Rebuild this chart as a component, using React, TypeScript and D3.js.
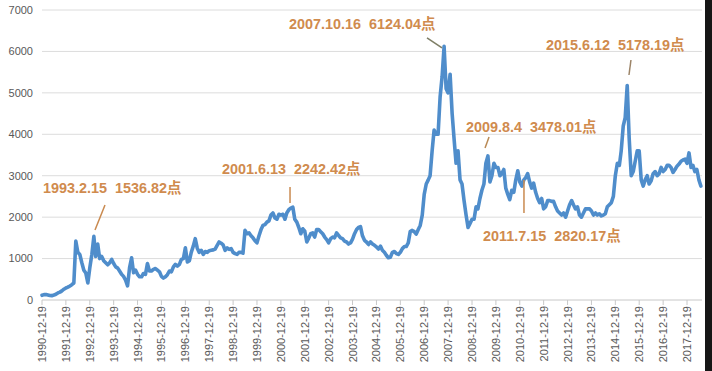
import React from 'react';
import * as d3 from 'd3';

const START = '1990-12-19';
const END = '2017-12-19';
const yearLabels = [
  '1990-12-19', '1991-12-19', '1992-12-19', '1993-12-19', '1994-12-19', '1995-12-19', '1996-12-19',
  '1997-12-19', '1998-12-19', '1999-12-19', '2000-12-19', '2001-12-19', '2002-12-19', '2003-12-19',
  '2004-12-19', '2005-12-19', '2006-12-19', '2007-12-19', '2008-12-19', '2009-12-19', '2010-12-19',
  '2011-12-19', '2012-12-19', '2013-12-19', '2014-12-19', '2015-12-19', '2016-12-19', '2017-12-19',
];
const yTicks = [0, 1000, 2000, 3000, 4000, 5000, 6000, 7000];

// monthly readings (around the 19th of each month), starting Dec 1990
const v1990 = [114];
const v1991 = [130, 132, 122, 110, 105, 118, 138, 170, 190, 220, 260, 290];
const v1992 = [310, 340, 370, 410, 1420, 1150, 1100, 900, 720, 650, 410, 780];
const v1993 = [1100, 1536, 1050, 1350, 1000, 1050, 950, 900, 850, 900, 980, 880];
const v1994 = [800, 770, 700, 620, 570, 480, 340, 780, 1020, 660, 720, 620];
const v1995 = [560, 560, 640, 620, 880, 700, 700, 740, 760, 720, 680, 570];
const v1996 = [530, 560, 610, 700, 680, 800, 860, 820, 860, 980, 1000, 1260];
const v1997 = [920, 950, 1150, 1300, 1480, 1250, 1150, 1200, 1100, 1170, 1150, 1190];
const v1998 = [1200, 1210, 1230, 1320, 1400, 1370, 1330, 1200, 1260, 1220, 1240, 1150];
const v1999 = [1120, 1100, 1150, 1150, 1130, 1680, 1600, 1620, 1550, 1500, 1430, 1380];
const v2000 = [1550, 1700, 1800, 1820, 1880, 1910, 2050, 2100, 1980, 1950, 2070, 2050];
const v2001 = [2070, 1950, 2100, 2180, 2220, 2242, 1950, 1880, 1750, 1600, 1720, 1660];
const v2002 = [1400, 1500, 1600, 1620, 1520, 1700, 1700, 1650, 1600, 1520, 1460, 1380];
const v2003 = [1480, 1520, 1500, 1620, 1560, 1500, 1480, 1420, 1400, 1350, 1380, 1470];
const v2004 = [1600, 1700, 1750, 1770, 1550, 1440, 1400, 1340, 1400, 1350, 1320, 1280];
const v2005 = [1230, 1300, 1200, 1150, 1080, 1020, 1030, 1150, 1170, 1120, 1100, 1150];
const v2006 = [1240, 1290, 1290, 1380, 1650, 1680, 1650, 1590, 1700, 1800, 2050, 2550];
const v2007 = [2800, 2900, 3000, 3600, 4100, 4000, 4000, 4900, 5400, 6124, 5100, 5000];
const v2008 = [5450, 4500, 3900, 3300, 3600, 2900, 2800, 2400, 2050, 1750, 1850, 1950];
const v2009 = [1950, 2250, 2200, 2450, 2650, 2800, 3300, 3478, 2850, 3000, 3300, 3200];
const v2010 = [3200, 3000, 3050, 3150, 2700, 2550, 2420, 2650, 2600, 2900, 3120, 2850];
const v2011 = [2750, 2900, 2950, 3050, 2850, 2700, 2820, 2600, 2450, 2350, 2450, 2200];
const v2012 = [2250, 2400, 2400, 2380, 2380, 2250, 2150, 2100, 2050, 2100, 2000, 2150];
const v2013 = [2300, 2400, 2300, 2200, 2250, 2050, 2000, 2100, 2200, 2200, 2200, 2150];
const v2014 = [2050, 2100, 2050, 2080, 2030, 2050, 2080, 2250, 2300, 2350, 2500, 3000];
const v2015 = [3300, 3250, 3600, 4200, 4400, 5178, 3900, 3000, 3100, 3350, 3600, 3600];
const v2016 = [2900, 2750, 2900, 3000, 2800, 2880, 3050, 3100, 3000, 3050, 3200, 3100];
const v2017 = [3150, 3250, 3250, 3200, 3080, 3150, 3230, 3280, 3350, 3380, 3400, 3300];
const v2018 = [3550, 3200, 3250, 3100, 3150, 2900, 2750];

const annotations = [
  { date: '1993-02-15', value: 1536.82, label: '1993.2.15  1536.82点' },
  { date: '2001-06-13', value: 2242.42, label: '2001.6.13  2242.42点' },
  { date: '2007-10-16', value: 6124.04, label: '2007.10.16  6124.04点' },
  { date: '2009-08-04', value: 3478.01, label: '2009.8.4  3478.01点' },
  { date: '2011-07-15', value: 2820.17, label: '2011.7.15  2820.17点' },
  { date: '2015-06-12', value: 5178.19, label: '2015.6.12  5178.19点' },
];

// layout offsets (pixels, relative to the annotated point)
const annLayout = [
  { tx: -50.6, ty: -43.3, x1: 1.4, y1: -6.3, x2: 11.4, y2: -31.3, lc: '#C98A50' },
  { tx: -70.4, ty: -33.1, x1: -2.4, y1: -4, x2: -2.4, y2: -20, lc: '#C98A50' },
  { tx: -154.9, ty: -17.3, x1: -1.9, y1: 1.7, x2: -16.9, y2: -8.3, lc: '#7E7E66' },
  { tx: -20.9, ty: -24.2, x1: -1.9, y1: -7.9, x2: 2.1, y2: -18.9, lc: '#B98A55' },
  { tx: -50.4, ty: 57.8, x1: -9.4, y1: 29.8, x2: -9.4, y2: -3.2, lc: '#C98A50' },
  { tx: -80.8, ty: -35.5, x1: 2.2, y1: -10.5, x2: 4.2, y2: -25.5, lc: '#9C8468' },
];

const parse = d3.timeParse('%Y-%m-%d');

export default function App() {
  const W = 712;
  const H = 371;
  const left = 42;
  const right = 702;
  const top = 10;
  const bottom = 300;

  const values = [
    ...v1990, ...v1991, ...v1992, ...v1993, ...v1994, ...v1995, ...v1996, ...v1997, ...v1998,
    ...v1999, ...v2000, ...v2001, ...v2002, ...v2003, ...v2004, ...v2005, ...v2006, ...v2007,
    ...v2008, ...v2009, ...v2010, ...v2011, ...v2012, ...v2013, ...v2014, ...v2015, ...v2016,
    ...v2017, ...v2018,
  ];
  const start = parse(START) as Date;
  const data = values.map((v, i) => ({ d: d3.timeMonth.offset(start, i), v }));

  const x = d3.scaleTime().domain([start, parse(END) as Date]).range([42, 687]);
  const y = d3.scaleLinear().domain([0, 7000]).range([bottom, top]);

  const line = d3
    .line<{ d: Date; v: number }>()
    .x((p) => x(p.d))
    .y((p) => y(p.v))
    .curve(d3.curveLinear);

  const axisFont = "'Liberation Sans', Arial, 'Noto Sans CJK SC', sans-serif";
  const annFont = "'Liberation Sans', Arial, 'Noto Sans CJK SC', sans-serif";

  return (
    <div style={{ position: 'absolute', left: 0, top: 0, width: W, height: H, background: '#fff' }}>
      <svg width={W} height={H} style={{ display: 'block' }}>
        <rect x={0} y={0} width={W} height={H} fill="#ffffff" />
        {yTicks.map((t) => (
          <g key={t}>
            <line x1={left} x2={right} y1={y(t)} y2={y(t)} stroke={t === 0 ? '#C8C8C8' : '#DCDCDC'} strokeWidth={1} />
            <text
              x={33}
              y={y(t)}
              dy="0.35em"
              textAnchor="end"
              fontSize={11}
              fill="#595959"
              fontFamily={axisFont}
            >
              {t}
            </text>
          </g>
        ))}
        {yearLabels.map((s) => {
          const xx = x(parse(s) as Date);
          return (
            <g key={s}>
              <line x1={xx} x2={xx} y1={bottom} y2={bottom + 5} stroke="#C8C8C8" strokeWidth={1} />
              <text
                transform={`translate(${xx + 4},${bottom + 6}) rotate(-90)`}
                textAnchor="end"
                fontSize={11}
                fill="#595959"
                fontFamily={axisFont}
              >
                {s}
              </text>
            </g>
          );
        })}
        <path
          d={line(data) || ''}
          fill="none"
          stroke="#4F8DCB"
          strokeWidth={3.6}
          strokeLinejoin="round"
          strokeLinecap="round"
        />
        {annotations.map((a, i) => {
          const ax = x(parse(a.date) as Date);
          const ay = y(a.value);
          const L = annLayout[i];
          return (
            <g key={a.label}>
              <line
                x1={ax + L.x1}
                y1={ay + L.y1}
                x2={ax + L.x2}
                y2={ay + L.y2}
                stroke={L.lc}
                strokeWidth={1.5}
              />
              <text
                x={ax + L.tx}
                y={ay + L.ty}
                fontSize={14.4}
                fontWeight="bold"
                fill="#D08B4E"
                fontFamily={annFont}
                style={{ whiteSpace: 'pre' }}
              >
                {a.label}
              </text>
            </g>
          );
        })}
        <rect x={705} y={0} width={7} height={H} fill="#161616" />
      </svg>
    </div>
  );
}
